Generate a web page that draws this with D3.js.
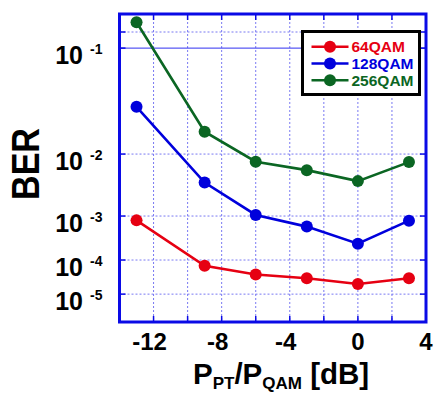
<!DOCTYPE html>
<html>
<head>
<meta charset="utf-8">
<script src="https://cdn.jsdelivr.net/npm/d3@7"></script>
<style>
  body { margin: 0; background: #fff; }
  text { font-family: "Liberation Sans", Arial, sans-serif; font-weight: bold; }
</style>
</head>
<body>
<div id="chart"></div>
<script>
// P_PT/P_QAM in dB
const xVals = [-13, -9, -6, -3, 0, 3];
// BER per modulation format
const ber64 = [8.2e-4, 7.0e-5, 4.0e-5, 3.1e-5, 2.1e-5, 3.1e-5];
const ber128 = [3.4e-2, 3.9e-3, 1.05e-3, 6.1e-4, 2.55e-4, 8.1e-4];
const ber256 = [1.43e-1, 1.87e-2, 7.9e-3, 6.0e-3, 4.1e-3, 7.8e-3];
const seriesNames = ["64QAM", "128QAM", "256QAM"];
const seriesColors = ["#e60012", "#0000dc", "#0b6623"];

// y axis is drawn as log(-log10(BER)); ticks given as -log10(BER)
const yTickQ = [0.9, 1, 2, 3, 4, 5];
const yTickExp = ["", "-1", "-2", "-3", "-4", "-5"];
const xGrid = [-12, -10, -8, -6, -4, -2, 0, 2];
const xLabels = [-12, -8, -4, 0, 4];

const W = 434, H = 394;
const pL = 119.5, pR = 426, pT = 14, pB = 322;
const frameColor = "#0a0ae6";

const svg = d3.select("#chart").append("svg")
    .attr("width", W).attr("height", H);

const x = d3.scaleLinear().domain([-14, 4]).range([pL, pR]);
const y = d3.scaleLog().domain([0.8, 6]).range([pT, pB]);
const yb = b => y(-Math.log10(b));

// grid
const grid = svg.append("g");
grid.selectAll(".vg").data(xGrid).enter().append("line")
    .attr("x1", d => x(d)).attr("x2", d => x(d))
    .attr("y1", pT).attr("y2", pB)
    .attr("stroke", "#6a6af0").attr("stroke-width", 0.9)
    .attr("stroke-dasharray", "2,2");
grid.selectAll(".hg").data(yTickQ).enter().append("line")
    .attr("x1", pL).attr("x2", pR)
    .attr("y1", d => y(d)).attr("y2", d => y(d))
    .attr("stroke", d => d === 1 ? "#3030f0" : "#6a6af0")
    .attr("stroke-width", d => d === 1 ? 1 : 0.9)
    .attr("stroke-dasharray", d => d === 1 ? null : "2,2");

// inner ticks on all four sides
const tk = svg.append("g").attr("stroke", frameColor).attr("stroke-width", 1.5);
xGrid.forEach(d => {
    tk.append("line").attr("x1", x(d)).attr("x2", x(d)).attr("y1", pB).attr("y2", pB - 6);
    tk.append("line").attr("x1", x(d)).attr("x2", x(d)).attr("y1", pT).attr("y2", pT + 6);
});
yTickQ.forEach(d => {
    tk.append("line").attr("x1", pL).attr("x2", pL + 6).attr("y1", y(d)).attr("y2", y(d));
    tk.append("line").attr("x1", pR).attr("x2", pR - 6).attr("y1", y(d)).attr("y2", y(d));
});

// series
const series = [ber64, ber128, ber256];
const line = d3.line().x((d, i) => x(xVals[i])).y(d => yb(d));
series.forEach((s, k) => {
    svg.append("path").datum(s)
        .attr("d", line).attr("fill", "none")
        .attr("stroke", seriesColors[k]).attr("stroke-width", 2.6);
    svg.selectAll(".m" + k).data(s).enter().append("circle")
        .attr("cx", (d, i) => x(xVals[i])).attr("cy", d => yb(d))
        .attr("r", 6).attr("fill", seriesColors[k]);
});

// frame
svg.append("rect")
    .attr("x", pL).attr("y", pT)
    .attr("width", pR - pL).attr("height", pB - pT)
    .attr("fill", "none").attr("stroke", frameColor).attr("stroke-width", 3);

// y tick labels
yTickQ.forEach((d, i) => {
    if (!yTickExp[i]) return;
    svg.append("text").attr("x", 83).attr("y", y(d) + 15.5)
        .attr("text-anchor", "end").attr("font-size", 25).text("10");
    svg.append("text").attr("x", 90).attr("y", y(d) + 5.5)
        .attr("font-size", 14).text(yTickExp[i]);
});

// x tick labels: digits centered on the tick, minus sign hangs left
xLabels.forEach(d => {
    const digits = svg.append("text").attr("x", x(d)).attr("y", 349.5)
        .attr("text-anchor", "middle").attr("font-size", 24).text(Math.abs(d));
    if (d < 0) {
        const bb = digits.node().getBBox();
        svg.append("text").attr("x", bb.x).attr("y", 349.5)
            .attr("text-anchor", "end").attr("font-size", 24).text("-");
    }
});

// axis titles
const xt = svg.append("text").attr("x", 193).attr("y", 384).attr("font-size", 29.5);
xt.append("tspan").text("P");
xt.append("tspan").attr("font-size", 17).attr("dy", 5).text("PT");
xt.append("tspan").attr("dy", -5).text("/P");
xt.append("tspan").attr("font-size", 17).attr("dy", 5).text("QAM");
xt.append("tspan").attr("dy", -5).text(" [dB]");

svg.append("text")
    .attr("transform", "translate(39,164) rotate(-90)")
    .attr("text-anchor", "middle").attr("font-size", 38)
    .attr("textLength", 72).attr("lengthAdjust", "spacingAndGlyphs")
    .text("BER");

// legend
const lg = svg.append("g");
lg.append("rect").attr("x", 302.5).attr("y", 31.5).attr("width", 117).attr("height", 63)
    .attr("fill", "#fff").attr("stroke", "#000").attr("stroke-width", 3);
const rowY = [46.7, 63.5, 80.3];
seriesNames.forEach((n, k) => {
    lg.append("line").attr("x1", 311.5).attr("x2", 348.5)
        .attr("y1", rowY[k]).attr("y2", rowY[k])
        .attr("stroke", seriesColors[k]).attr("stroke-width", 2.6);
    lg.append("circle").attr("cx", 330).attr("cy", rowY[k]).attr("r", 6)
        .attr("fill", seriesColors[k]);
    lg.append("text").attr("x", 351.5).attr("y", rowY[k] + 5.5)
        .attr("font-size", 15.5).attr("fill", seriesColors[k]).text(n);
});
</script>
</body>
</html>
